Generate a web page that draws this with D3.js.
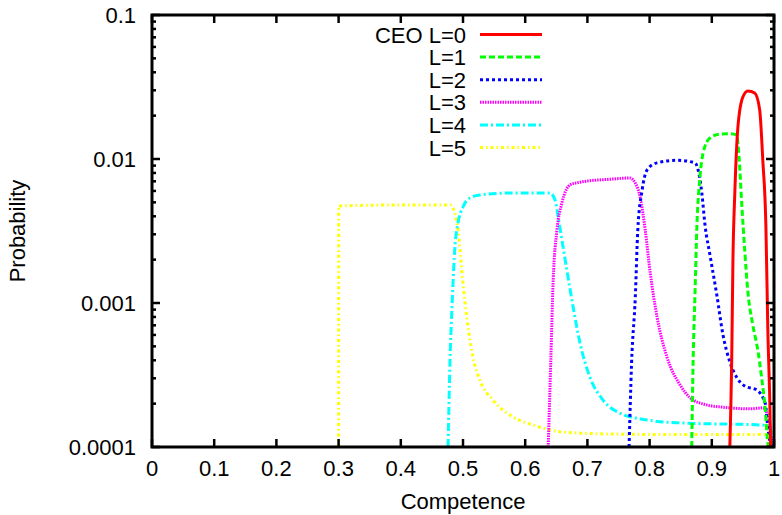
<!DOCTYPE html>
<html><head><meta charset="utf-8">
<script src="https://cdn.jsdelivr.net/npm/d3@7"></script>
<style>
body{margin:0;background:#fff}
svg{display:block}
text{font-family:"Liberation Sans",Arial,Helvetica,sans-serif;fill:#000}
</style>
</head><body>
<svg id="chart" width="782" height="515"></svg>
<script>
// ---- data ----
const seriesNames = ["CEO L=0", "L=1", "L=2", "L=3", "L=4", "L=5"];
const seriesColors = ["#ff0000", "#00ff00", "#0000ff", "#ff00ff", "#00ffff", "#ffff00"];

const xTicks = [0, 0.1, 0.2, 0.3, 0.4, 0.5, 0.6, 0.7, 0.8, 0.9, 1];
const xTickLabels = ["0", "0.1", "0.2", "0.3", "0.4", "0.5", "0.6", "0.7", "0.8", "0.9", "1"];
const yTicks = [0.1, 0.01, 0.001, 0.0001];
const yTickLabels = ["0.1", "0.01", "0.001", "0.0001"];

const l0Competence = [0.929, 0.932, 0.934, 0.937, 0.942, 0.950, 0.958, 0.969, 0.977, 0.982, 0.987, 0.990, 0.994, 0.9945];
const l0Prob = [1e-4, 4.0e-4, 2.0e-3, 5.8e-3, 1.67e-2, 2.70e-2, 2.97e-2, 2.87e-2, 2.19e-2, 9.8e-3, 3.4e-3, 6.8e-4, 1.4e-4, 1e-4];

const l1Competence = [0.8677, 0.870, 0.873, 0.876, 0.881, 0.886, 0.897, 0.913, 0.930, 0.940, 0.944, 0.948, 0.953, 0.958, 0.966, 0.974, 0.980, 0.986, 0.990, 0.992];
const l1Prob = [1e-4, 4.0e-4, 1.17e-3, 3.37e-3, 7.5e-3, 1.10e-2, 1.40e-2, 1.49e-2, 1.50e-2, 1.47e-2, 1.0e-2, 5.0e-3, 2.3e-3, 1.2e-3, 7.0e-4, 4.7e-4, 3.06e-4, 1.81e-4, 1.07e-4, 1e-4];

const l2Competence = [0.767, 0.771, 0.777, 0.781, 0.788, 0.796, 0.812, 0.844, 0.873, 0.878, 0.884, 0.889, 0.897, 0.908, 0.918, 0.929, 0.941, 0.953, 0.972, 0.986, 0.990, 0.995];
const l2Prob = [1e-4, 3.8e-4, 1.10e-3, 3.2e-3, 6.1e-3, 8.4e-3, 9.4e-3, 9.8e-3, 9.4e-3, 8.4e-3, 5.8e-3, 3.5e-3, 2.16e-3, 1.14e-3, 6.0e-4, 3.9e-4, 3.0e-4, 2.65e-4, 2.49e-4, 2.0e-4, 1.38e-4, 1e-4];

const l3Competence = [0.637, 0.641, 0.645, 0.651, 0.659, 0.672, 0.688, 0.741, 0.768, 0.777, 0.785, 0.793, 0.801, 0.812, 0.828, 0.849, 0.865, 0.892, 0.918, 0.961, 0.982, 0.992, 0.997];
const l3Prob = [1e-4, 3.8e-4, 1.44e-3, 3.2e-3, 4.95e-3, 6.6e-3, 6.9e-3, 7.26e-3, 7.38e-3, 6.8e-3, 5.4e-3, 3.2e-3, 1.62e-3, 8.0e-4, 4.2e-4, 2.7e-4, 2.2e-4, 1.96e-4, 1.89e-4, 1.84e-4, 1.87e-4, 1.54e-4, 1e-4];

const l4Competence = [0.476, 0.479, 0.483, 0.487, 0.492, 0.500, 0.511, 0.527, 0.580, 0.640, 0.648, 0.653, 0.659, 0.667, 0.677, 0.688, 0.704, 0.725, 0.752, 0.796, 0.849, 0.982, 0.994, 0.998];
const l4Prob = [1e-4, 3.8e-4, 1.10e-3, 2.45e-3, 3.6e-3, 4.64e-3, 5.36e-3, 5.62e-3, 5.81e-3, 5.81e-3, 5.19e-3, 3.95e-3, 2.74e-3, 1.69e-3, 9.4e-4, 5.3e-4, 3.06e-4, 2.12e-4, 1.72e-4, 1.54e-4, 1.47e-4, 1.42e-4, 1.32e-4, 1e-4];

const l5Competence = [0.300, 0.3001, 0.399, 0.481, 0.484, 0.492, 0.498, 0.506, 0.516, 0.527, 0.548, 0.580, 0.613, 0.661, 0.741, 0.849, 0.986, 0.997];
const l5Prob = [1e-4, 4.72e-3, 4.79e-3, 4.79e-3, 4.57e-3, 3.21e-3, 1.69e-3, 8.0e-4, 4.22e-4, 2.92e-4, 2.12e-4, 1.62e-4, 1.42e-4, 1.27e-4, 1.23e-4, 1.22e-4, 1.22e-4, 1e-4];

const seriesCompetence = [l0Competence, l1Competence, l2Competence, l3Competence, l4Competence, l5Competence];
const seriesProb = [l0Prob, l1Prob, l2Prob, l3Prob, l4Prob, l5Prob];

// ---- styles ----
const dashes = [null, "6,3", "3,3", "1.5,1", "8,3,2,3", "3,3,1.5,3"];
const widths = [3, 3, 3, 3, 3, 3];

const svg = d3.select("#chart");
const L = 152, R = 774, T = 15, B = 447;
const x = d3.scaleLinear().domain([0, 1]).range([L, R]);
const y = d3.scaleLog().domain([1e-4, 0.1]).range([B, T]);

svg.append("defs").append("clipPath").attr("id", "clip")
  .append("rect").attr("x", L).attr("y", T).attr("width", R - L).attr("height", B - T);

const line = d3.line().x(d => x(d[0])).y(d => y(d[1])).curve(d3.curveMonotoneX);

const plot = svg.append("g").attr("clip-path", "url(#clip)");
for (let i = seriesNames.length - 1; i >= 0; i--) {
  const pts = seriesCompetence[i].map((c, k) => [c, seriesProb[i][k]]);
  plot.append("path").datum(pts)
    .attr("d", line)
    .attr("fill", "none")
    .attr("stroke", seriesColors[i])
    .attr("stroke-width", widths[i])
    .attr("stroke-dasharray", dashes[i])
    .attr("stroke-linejoin", "round");
}

// ---- axes (gnuplot style frame with inward ticks) ----
const axisG = svg.append("g");
const majorLen = 8, minorLen = 4;
const tickStroke = 2.5;

xTicks.forEach((v, i) => {
  axisG.append("line").attr("x1", x(v)).attr("x2", x(v)).attr("y1", B).attr("y2", B - majorLen)
    .attr("stroke", "#000").attr("stroke-width", tickStroke);
  axisG.append("line").attr("x1", x(v)).attr("x2", x(v)).attr("y1", T).attr("y2", T + majorLen)
    .attr("stroke", "#000").attr("stroke-width", tickStroke);
  axisG.append("text").attr("x", x(v)).attr("y", 476).attr("text-anchor", "middle")
    .attr("font-size", 22).text(xTickLabels[i]);
});

const minorTicks = [];
for (let e = -4; e < -1; e++) for (let m = 2; m <= 9; m++) minorTicks.push(m * Math.pow(10, e));
yTicks.forEach((v, i) => {
  [[L, 1], [R, -1]].forEach(([x0, dir]) => {
    axisG.append("line").attr("x1", x0).attr("x2", x0 + dir * majorLen).attr("y1", y(v)).attr("y2", y(v))
      .attr("stroke", "#000").attr("stroke-width", tickStroke);
  });
  axisG.append("text").attr("x", 136).attr("y", y(v) + 8).attr("text-anchor", "end")
    .attr("font-size", 22).text(yTickLabels[i]);
});
minorTicks.forEach(v => {
  [[L, 1], [R, -1]].forEach(([x0, dir]) => {
    axisG.append("line").attr("x1", x0).attr("x2", x0 + dir * minorLen).attr("y1", y(v)).attr("y2", y(v))
      .attr("stroke", "#000").attr("stroke-width", tickStroke);
  });
});

axisG.append("rect").attr("x", L).attr("y", T).attr("width", R - L).attr("height", B - T)
  .attr("fill", "none").attr("stroke", "#000").attr("stroke-width", 3);

svg.append("text").attr("x", (L + R) / 2).attr("y", 509).attr("text-anchor", "middle")
  .attr("font-size", 22).text("Competence");
svg.append("text").attr("transform", "translate(25," + (T + B) / 2 + ") rotate(-90)")
  .attr("text-anchor", "middle").attr("font-size", 22).text("Probability");

const leg = svg.append("g");
seriesNames.forEach((name, i) => {
  const cy = 34.5 + i * 22.6;
  leg.append("text").attr("x", 466).attr("y", cy + 8).attr("text-anchor", "end")
    .attr("font-size", 22).text(name);
  leg.append("line").attr("x1", 480).attr("x2", 542).attr("y1", cy).attr("y2", cy)
    .attr("stroke", seriesColors[i]).attr("stroke-width", widths[i])
    .attr("stroke-dasharray", dashes[i]);
});
</script>
</body></html>
